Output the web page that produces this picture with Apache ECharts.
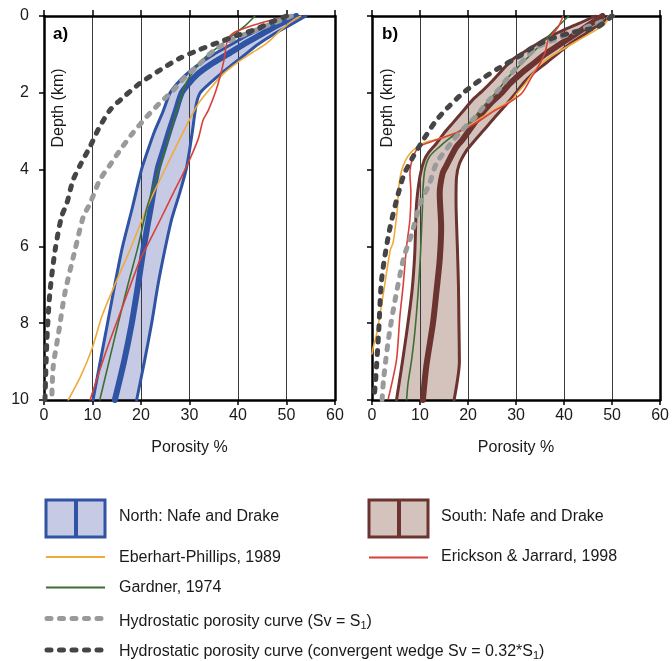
<!DOCTYPE html>
<html>
<head>
<meta charset="utf-8">
<title>Porosity–depth curves</title>
<script src="https://cdn.jsdelivr.net/npm/echarts@6/dist/echarts.min.js"></script>
<style>
  html, body { margin: 0; padding: 0; background: #fff; }
  #chart { width: 672px; height: 661px; }
</style>
</head>
<body>
<div id="chart"></div>
<script>
// Porosity (%) versus depth (km): each point is [porosity, depth]

// ---- Panel a) North ----
const northLeft = [[50,0],[46,0.25],[42,0.5],[38.5,0.75],[35,1.0],[32,1.25],[29.5,1.5],[27.5,1.75],[26,2.0],[24.5,2.5],[22.8,3.0],[21.4,3.5],[20.1,4.0],[18.2,5.0],[16.2,6.0],[14.6,7.0],[13.1,8.0],[11.6,9.0],[10.1,10]];
const northCenter = [[52,0],[48,0.25],[44.5,0.5],[41,0.75],[37.8,1.0],[34.5,1.25],[31.8,1.5],[29.9,1.75],[28.4,2.0],[27.1,2.5],[25.8,3.0],[24.6,3.5],[23.4,4.0],[22,5.0],[20.6,6.0],[19.4,7.0],[18.1,8.0],[16.5,9.0],[14.6,10]];
const northRight = [[54,0],[50.5,0.25],[47,0.5],[44,0.75],[41.5,1.0],[39,1.25],[36.5,1.5],[34.2,1.75],[32.2,2.0],[31.4,2.3],[30.6,3.0],[30,3.5],[29.3,4.0],[28,4.6],[26.3,5.3],[24.9,6.1],[23.5,7.0],[22.2,8.0],[20.7,9.0],[19.1,10]];
const eberhartA = [[53,0],[51.5,0.1],[49,0.35],[46,0.7],[43,0.95],[40,1.2],[37,1.5],[34.2,1.9],[32,2.25],[30.4,2.6],[28,3.2],[25.3,3.9],[23,4.5],[21.2,5.0],[17.7,6.1],[14.6,7.0],[12,7.8],[9.8,8.7],[7.5,9.4],[5,10]];
const gardnerA = [[43.5,0],[41.5,0.25],[39,0.5],[36,0.8],[33,1.1],[31,1.4],[29.3,1.75],[28,2.2],[26,3.05],[23.2,4.2],[21.2,5.0],[19.4,6.0],[17.3,7.0],[15.3,8.0],[13.4,9.0],[11.5,10]];
const ericksonA = [[50,0.02],[45,0.17],[40.5,0.36],[39,0.45],[38,0.58],[37.6,0.75],[37.1,1.15],[36.3,1.58],[35.3,2.0],[33.9,2.45],[32.8,2.71],[31.8,3.2],[30,3.75],[28.3,4.2],[26.7,4.6],[24,5.3],[21.2,6.0],[19.8,6.35],[16.4,7.5],[12.9,8.7],[9.5,10]];
const hydroA = [[51,0],[47,0.2],[43,0.4],[39,0.6],[35,0.9],[31.5,1.32],[29,1.6],[26.7,1.93],[24,2.25],[21.2,2.62],[18.3,3.05],[15.7,3.49],[13.5,3.9],[11.5,4.27],[9.5,4.88],[8.1,5.23],[6.4,6.09],[4.3,7.22],[3,8.26],[1.9,9.13],[1.6,10]];
const wedgeA = [[50,0],[47,0.15],[44,0.33],[40,0.5],[36.3,0.67],[32,0.88],[28,1.1],[24,1.4],[19.8,1.75],[16.5,2.1],[13.6,2.45],[11.2,2.95],[9.5,3.4],[7.6,3.85],[6,4.27],[4.7,4.88],[3.6,5.23],[2.3,6.09],[1.2,7.22],[0.6,8.44],[0.2,10]];

// ---- Panel b) South ----
const southLeft = [[46.5,0],[43,0.2],[40,0.36],[37,0.53],[34.6,0.71],[31.5,0.95],[29.1,1.15],[25,1.7],[23,1.95],[20.9,2.19],[18.8,2.5],[16.8,2.79],[15,3.05],[13.4,3.32],[11.8,3.55],[10.9,3.75],[10.1,4.1],[9.5,4.6],[9.2,5.05],[8.9,6.2],[8.3,7.2],[7.2,8.26],[6.1,9.2],[5.1,10]];
const southCenter = [[48,0],[45,0.25],[42,0.5],[39,0.75],[36,1.0],[33.5,1.25],[31,1.5],[28.8,1.75],[27,2.0],[24.5,2.3],[22.3,2.62],[18.8,3.23],[17.5,3.42],[15.4,3.92],[14.7,4.1],[14.1,4.62],[14.4,5.49],[14.1,6.35],[13.4,7.2],[12.7,8.0],[11.3,9.13],[10.6,10]];
const southRight = [[49.7,0],[47,0.25],[44,0.5],[41,0.75],[38.5,1.0],[36,1.25],[33.5,1.5],[31.5,1.75],[30,2.0],[28,2.3],[25.5,2.65],[23.3,2.97],[21,3.3],[19.7,3.5],[18.2,3.85],[17.6,4.2],[17.5,4.8],[17.8,6.1],[18,7.0],[18.1,8.0],[18.2,9.0],[17.1,10]];
const eberhartB = [[49.5,0],[48.3,0.23],[44.9,0.49],[40.1,0.84],[37,1.08],[34.6,1.32],[32,1.75],[30,2.05],[29.1,2.19],[26.5,2.37],[24.3,2.53],[21.5,2.75],[18.8,2.97],[15.4,3.14],[10.6,3.32],[7.9,3.58],[6.2,4.01],[5.5,4.53],[5.3,5.0],[4.4,5.9],[3.8,6.1],[2.4,7.2],[1.0,8.26],[0.3,8.6],[0,8.8]];
const gardnerB = [[41,0],[38.5,0.3],[36.7,0.54],[33.5,0.95],[30.5,1.32],[28.2,1.62],[25.7,2.01],[22.5,2.45],[20.9,2.71],[18.5,2.97],[16,3.2],[14.1,3.4],[12,3.66],[11,4.01],[10.6,4.53],[10.5,5.0],[10.1,6.2],[9.6,7.2],[8.9,8.26],[8.2,9.0],[7.5,9.57],[7.2,10]];
const ericksonB = [[39.8,0],[38.8,0.28],[36.7,0.63],[36,0.97],[34.6,1.32],[33.3,1.58],[31.2,2.01],[28,2.3],[25.7,2.45],[21.6,2.79],[18.2,3.01],[13.4,3.23],[9.9,3.4],[8.6,3.66],[7.9,4.1],[8.1,4.6],[7.9,5.3],[7.2,6.0],[6.5,7.0],[5.8,7.83],[5.1,8.96],[3.4,9.96]];
const hydroB = [[50,0],[47.7,0.15],[44.5,0.3],[41.5,0.45],[38,0.62],[34.6,0.8],[31.5,1.15],[28.5,1.58],[26.5,1.9],[24,2.25],[21.6,2.62],[20.2,2.79],[18.2,3.05],[16.4,3.32],[13.4,3.84],[12,4.36],[10,4.9],[8.2,5.7],[6.6,6.3],[4.8,7.4],[3.4,8.44],[2.4,9.48],[2.1,10]];
const wedgeB = [[50,0],[47,0.28],[42,0.42],[38,0.56],[34,0.78],[30.5,1.06],[26.5,1.35],[22.5,1.67],[19,2.0],[15.8,2.38],[13.2,2.75],[10.8,3.2],[8.4,3.7],[6.6,4.15],[5.1,4.8],[3.6,5.6],[2.5,6.4],[1.9,7.0],[1.4,8.2],[0.8,9.4],[0.4,10]];

// Axis ticks
const porosityTicks = [0, 10, 20, 30, 40, 50, 60];
const depthTicks = [0, 2, 4, 6, 8, 10];

const FONT = '"Liberation Sans", Arial, sans-serif';
const C = {
  blue: '#2f54a3', northFill: '#c7cae4',
  brown: '#6b3430', southFill: '#d4c3bc',
  orange: '#f0aa3c', green: '#3d6e33', red: '#d8413a',
  hydro: '#9a9a9a', wedge: '#454545', ink: '#1a1a1a'
};

function bottomAxis(grid, showName) {
  return {
    type: 'value', gridIndex: grid, position: 'bottom',
    min: porosityTicks[0], max: porosityTicks[porosityTicks.length - 1], interval: 10,
    z: 2,
    axisLine: { show: true, onZero: false, lineStyle: { color: '#000', width: 2.5 } },
    axisTick: { show: true, length: 5, lineStyle: { color: '#000', width: 1.5 } },
    axisLabel: { fontSize: 16, color: C.ink, margin: 8, fontFamily: FONT },
    splitLine: { show: true, lineStyle: { color: '#3a3a3a', width: 1 } },
    name: showName ? 'Porosity %' : '', nameLocation: 'middle', nameGap: 40,
    nameTextStyle: { fontSize: 16, color: C.ink, fontFamily: FONT }
  };
}
function topAxis(grid) {
  return {
    type: 'value', gridIndex: grid, position: 'top',
    min: 0, max: 60, interval: 10, z: 2,
    axisLine: { show: true, onZero: false, lineStyle: { color: '#000', width: 2.5 } },
    axisTick: { show: true, length: 6, lineStyle: { color: '#000', width: 1.5 } },
    axisLabel: { show: false }, splitLine: { show: false }
  };
}
function leftAxis(grid, labels) {
  return {
    type: 'value', gridIndex: grid, position: 'left', inverse: true,
    min: depthTicks[0], max: depthTicks[depthTicks.length - 1], interval: 2, z: 2,
    axisLine: { show: true, onZero: false, lineStyle: { color: '#000', width: 2.5 } },
    axisTick: { show: true, length: 5, lineStyle: { color: '#000', width: 1.5 } },
    axisLabel: { show: labels, fontSize: 16, color: C.ink, margin: 15, fontFamily: FONT },
    splitLine: { show: false }
  };
}
function rightAxis(grid) {
  return {
    type: 'value', gridIndex: grid, position: 'right', inverse: true,
    min: 0, max: 10, interval: 2, z: 2,
    axisLine: { show: true, onZero: false, lineStyle: { color: '#000', width: 2.5 } },
    axisTick: { show: false }, axisLabel: { show: false }, splitLine: { show: false }
  };
}

function bandFill(xi, yi, left, right, color) {
  return {
    type: 'custom', xAxisIndex: xi, yAxisIndex: yi, z: 1, clip: true, silent: true,
    data: [[0, 0]],
    renderItem: function (params, api) {
      const pts = left.map(p => api.coord(p))
        .concat(right.slice().reverse().map(p => api.coord(p)));
      return { type: 'polygon', shape: { points: pts }, style: { fill: color } };
    }
  };
}
function curve(xi, yi, data, color, width, z, dash) {
  return {
    type: 'line', xAxisIndex: xi, yAxisIndex: yi, data: data, z: z,
    symbol: 'none', smooth: 0.25, silent: true,
    lineStyle: dash
      ? { color: color, width: width, type: [4, 8.5], cap: 'round' }
      : { color: color, width: width, cap: 'round', join: 'round' }
  };
}

function panelSeries(xi, yi, band, lineColor, fill, eb, ga, er, hy, we) {
  return [
    bandFill(xi, yi, band[0], band[2], fill),
    curve(xi, yi, band[0], lineColor, 3, 3),
    curve(xi, yi, band[2], lineColor, 3, 3),
    curve(xi, yi, band[1], lineColor, 6, 3),
    curve(xi, yi, eb, C.orange, 1.6, 4),
    curve(xi, yi, ga, C.green, 1.6, 4),
    curve(xi, yi, er, C.red, 1.6, 4),
    curve(xi, yi, hy, C.hydro, 5, 5, true),
    curve(xi, yi, we, C.wedge, 5, 6, true)
  ];
}

const chart = echarts.init(document.getElementById('chart'), null, { renderer: 'canvas' });

const legendText = (x, y, text) => ({
  type: 'text', x: x, y: y,
  style: { text: text, fill: C.ink, font: '16px ' + FONT, verticalAlign: 'middle' }
});
const subText = (x, y, before, after) => ({
  type: 'text', x: x, y: y,
  style: {
    text: '{a|' + before + '}{s|1}{a|' + after + '}',
    fill: C.ink, font: '16px ' + FONT, verticalAlign: 'middle',
    rich: {
      a: { fontSize: 16, fontFamily: FONT, fill: C.ink, lineHeight: 20, verticalAlign: 'bottom' },
      s: { fontSize: 11, fontFamily: FONT, fill: C.ink, lineHeight: 14, verticalAlign: 'bottom', padding: [0, 0, -1, 0] }
    }
  }
});
const bandIcon = (x, y, fill, stroke) => ([
  { type: 'rect', shape: { x: x, y: y, width: 59, height: 37 }, style: { fill: fill, stroke: stroke, lineWidth: 3 } },
  { type: 'rect', shape: { x: x + 28, y: y, width: 4, height: 37 }, style: { fill: stroke } }
]);
const lineIcon = (x, y, color, width, dash) => ({
  type: 'line', shape: { x1: x, y1: y, x2: x + 59, y2: y },
  style: dash
    ? { stroke: color, lineWidth: width, lineDash: [4, 8.5], lineCap: 'round' }
    : { stroke: color, lineWidth: width }
});

chart.setOption({
  animation: false,
  backgroundColor: '#fff',
  grid: [
    { left: 44, top: 16, width: 291, height: 384 },
    { left: 372, top: 16, width: 291, height: 384 }
  ],
  xAxis: [bottomAxis(0, true), topAxis(0), bottomAxis(1, true), topAxis(1)],
  yAxis: [leftAxis(0, true), rightAxis(0), leftAxis(1, false), rightAxis(1)],
  series: [].concat(
    panelSeries(0, 0, [northLeft, northCenter, northRight], C.blue, C.northFill,
      eberhartA, gardnerA, ericksonA, hydroA, wedgeA),
    panelSeries(2, 2, [southLeft, southCenter, southRight], C.brown, C.southFill,
      eberhartB, gardnerB, ericksonB, hydroB, wedgeB)
  ),
  graphic: [].concat(
    [
      { type: 'text', x: 53, y: 34, z: 10, style: { text: 'a)', fill: '#000', font: 'bold 17px ' + FONT, verticalAlign: 'middle' } },
      { type: 'text', x: 382, y: 34, z: 10, style: { text: 'b)', fill: '#000', font: 'bold 17px ' + FONT, verticalAlign: 'middle' } },
      { type: 'text', x: 59, y: 108, rotation: Math.PI / 2, z: 10,
        style: { text: 'Depth (km)', fill: C.ink, font: '16px ' + FONT, align: 'center', verticalAlign: 'middle' } },
      { type: 'text', x: 388, y: 108, rotation: Math.PI / 2, z: 10,
        style: { text: 'Depth (km)', fill: C.ink, font: '16px ' + FONT, align: 'center', verticalAlign: 'middle' } }
    ],
    bandIcon(46, 500, C.northFill, C.blue),
    bandIcon(369, 500, C.southFill, C.brown),
    [
      legendText(119, 517, 'North: Nafe and Drake'),
      legendText(441, 517, 'South: Nafe and Drake'),
      lineIcon(46, 557, C.orange, 2),
      legendText(119, 558, 'Eberhart-Phillips, 1989'),
      lineIcon(369, 557.5, C.red, 2),
      legendText(441, 557, 'Erickson & Jarrard, 1998'),
      lineIcon(46, 587.5, C.green, 2),
      legendText(119, 588, 'Gardner, 1974'),
      lineIcon(47, 618.5, C.hydro, 5, true),
      subText(119, 620, 'Hydrostatic porosity curve (Sv = S', ')'),
      lineIcon(47, 650, C.wedge, 5, true),
      subText(119, 650, 'Hydrostatic porosity curve (convergent wedge Sv = 0.32*S', ')')
    ]
  )
});
</script>
</body>
</html>
